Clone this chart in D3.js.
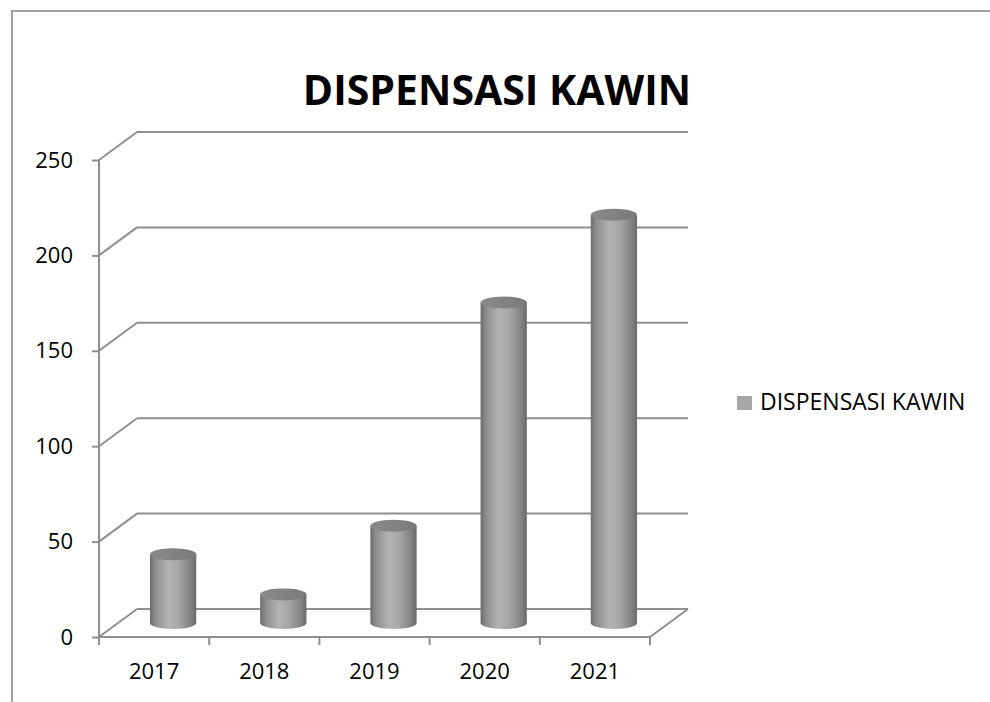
<!DOCTYPE html>
<html>
<head>
<meta charset="utf-8">
<script src="https://cdn.jsdelivr.net/npm/d3@7"></script>
<style>
  html, body { margin: 0; padding: 0; background: #fff; }
  svg { display: block; }
</style>
</head>
<body>
<div id="container"></div>
<script>
// chart data
var years = ["2017", "2018", "2019", "2020", "2021"];
var counts = [36, 15, 51, 168, 214];
var yTicks = [0, 50, 100, 150, 200, 250];
var seriesName = "DISPENSASI KAWIN";

var width = 990, height = 702;

var svg = d3.select("#container").append("svg")
    .attr("width", width)
    .attr("height", height);

// outer frame (only top and left visible)
svg.append("path")
    .attr("d", "M12,702 L12,11 L990,11")
    .attr("fill", "none")
    .attr("stroke", "#a0a0a0")
    .attr("stroke-width", 2);

var x = d3.scaleBand().domain(years).range([99, 650]);
var y = d3.scaleLinear().domain([0, 250]).range([637, 160]);

// depth of the 3d box
var dx = 38, dy = -28;
var gridColor = "#8f8f8f";
var font = "'Open Sans', sans-serif";

var defs = svg.append("defs");
var grad = defs.append("linearGradient")
    .attr("id", "cyl")
    .attr("x1", "0%").attr("x2", "100%").attr("y1", "0%").attr("y2", "0%");
grad.append("stop").attr("offset", "0%").attr("stop-color", "#6c6c6c");
grad.append("stop").attr("offset", "12%").attr("stop-color", "#8e8e8e");
grad.append("stop").attr("offset", "40%").attr("stop-color", "#b3b3b3");
grad.append("stop").attr("offset", "62%").attr("stop-color", "#a6a6a6");
grad.append("stop").attr("offset", "88%").attr("stop-color", "#828282");
grad.append("stop").attr("offset", "100%").attr("stop-color", "#6a6a6a");

var topGrad = defs.append("linearGradient")
    .attr("id", "cylTop")
    .attr("x1", "0%").attr("x2", "100%").attr("y1", "0%").attr("y2", "0%");
topGrad.append("stop").attr("offset", "0%").attr("stop-color", "#8a8a8a");
topGrad.append("stop").attr("offset", "100%").attr("stop-color", "#7a7a7a");

var x0 = x.range()[0], x1 = x.range()[1];

// back wall gridlines + side diagonals
var grid = svg.append("g");
grid.selectAll("line.back")
    .data(yTicks)
    .enter().append("line")
    .attr("x1", x0 + dx).attr("x2", x1 + dx)
    .attr("y1", function (d) { return y(d) + dy; })
    .attr("y2", function (d) { return y(d) + dy; })
    .attr("stroke", gridColor).attr("stroke-width", 2);

grid.selectAll("line.side")
    .data(yTicks)
    .enter().append("line")
    .attr("x1", x0).attr("x2", x0 + dx)
    .attr("y1", function (d) { return y(d); })
    .attr("y2", function (d) { return y(d) + dy; })
    .attr("stroke", gridColor).attr("stroke-width", 2);

// floor front edge and right edge
svg.append("line")
    .attr("x1", x0).attr("x2", x1)
    .attr("y1", y(0)).attr("y2", y(0))
    .attr("stroke", gridColor).attr("stroke-width", 2);
svg.append("line")
    .attr("x1", x1).attr("x2", x1 + dx)
    .attr("y1", y(0)).attr("y2", y(0) + dy)
    .attr("stroke", gridColor).attr("stroke-width", 2);

// y axis
var yAxis = svg.append("g")
    .attr("transform", "translate(" + x0 + ",0)")
    .call(d3.axisLeft(y).tickValues(yTicks).tickSize(7).tickPadding(19));
yAxis.select(".domain").attr("stroke", gridColor).attr("stroke-width", 2)
    .attr("d", "M0," + y(250) + "V" + y(0));
yAxis.selectAll(".tick line").attr("stroke", gridColor).attr("stroke-width", 2);
yAxis.selectAll(".tick text")
    .attr("font-family", font)
    .attr("font-size", 22)
    .attr("fill", "#000");

// x axis ticks at category boundaries
var bounds = years.map(function (d) { return x(d); }).concat([x1]);
svg.selectAll("line.xtick")
    .data(bounds)
    .enter().append("line")
    .attr("x1", function (d) { return d; }).attr("x2", function (d) { return d; })
    .attr("y1", y(0)).attr("y2", y(0) + 8)
    .attr("stroke", gridColor).attr("stroke-width", 2);

svg.selectAll("text.xlab")
    .data(years)
    .enter().append("text")
    .attr("x", function (d) { return x(d) + x.bandwidth() / 2; })
    .attr("y", 679)
    .attr("text-anchor", "middle")
    .attr("font-family", font)
    .attr("font-size", 22)
    .text(function (d) { return d; });

// cylinders, placed at half depth
var cw = x.bandwidth() * 0.42;
var ry = 6;
var bars = svg.selectAll("g.bar")
    .data(years.map(function (d, i) { return { year: d, value: counts[i] }; }))
    .enter().append("g");

bars.each(function (d) {
    var g = d3.select(this);
    var cx = x(d.year) + x.bandwidth() / 2 + dx / 2;
    var yb = y(0) + dy / 2;
    var yt = y(d.value) + dy / 2;
    var left = cx - cw / 2;
    g.append("path")
        .attr("d", "M" + left + "," + yt +
            " L" + left + "," + yb +
            " A" + (cw / 2) + "," + ry + " 0 0 0 " + (left + cw) + "," + yb +
            " L" + (left + cw) + "," + yt + " Z")
        .attr("fill", "url(#cyl)");
    g.append("ellipse")
        .attr("cx", cx).attr("cy", yt)
        .attr("rx", cw / 2).attr("ry", ry)
        .attr("fill", "url(#cylTop)");
});

// title
svg.append("text")
    .attr("x", 497)
    .attr("y", 105)
    .attr("text-anchor", "middle")
    .attr("font-family", font)
    .attr("font-weight", "bold")
    .attr("font-size", 41)
    .text(seriesName);

// legend
var legend = svg.append("g").attr("transform", "translate(737,396)");
legend.append("rect")
    .attr("width", 15).attr("height", 14)
    .attr("fill", "#a6a6a6");
legend.append("text")
    .attr("x", 23).attr("y", 14)
    .attr("font-family", font)
    .attr("font-size", 23)
    .text(seriesName);
</script>
</body>
</html>
